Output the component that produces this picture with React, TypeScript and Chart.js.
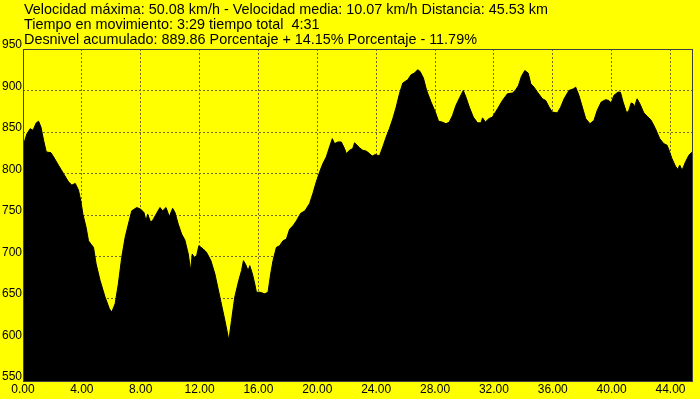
import React, { useEffect, useRef } from "react";
import { Chart, registerables } from "chart.js";

Chart.register(...registerables);

const TITLE_LINES = [
  "Velocidad máxima: 50.08 km/h - Velocidad media: 10.07 km/h Distancia: 45.53 km",
  "Tiempo en movimiento: 3:29 tiempo total  4:31",
  "Desnivel acumulado: 889.86 Porcentaje + 14.15% Porcentaje - 11.79%",
];

const X_TICKS = [0, 4, 8, 12, 16, 20, 24, 28, 32, 36, 40, 44];
const Y_TICKS = [550, 600, 650, 700, 750, 800, 850, 900, 950];
const X_MAX = 45.53;

const DIST = [
  0, 0.09, 0.27, 0.49, 0.68, 0.9, 1.06, 1.22, 1.4, 1.58, 1.9, 2.08, 2.41, 2.75, 3.09, 3.32, 3.55, 3.77, 3.93,
  4.07, 4.29, 4.45, 4.61, 4.79, 4.97, 5.24, 5.58, 5.87, 6.03, 6.26, 6.48, 6.71, 6.94, 7.16, 7.39, 7.73, 8.0,
  8.22, 8.36, 8.47, 8.68, 8.86, 9.08, 9.31, 9.49, 9.72, 9.94, 10.17, 10.33, 10.55, 10.78, 11.0, 11.23, 11.39,
  11.5, 11.63, 11.8, 11.95, 12.25, 12.47, 12.77, 13.04, 13.38, 13.72, 13.99, 14.17, 14.39, 14.66, 14.85, 14.98,
  15.14, 15.3, 15.41, 15.59, 15.75, 15.86, 16.09, 16.43, 16.65, 16.83, 16.99, 17.22, 17.44, 17.67, 17.9, 18.12,
  18.35, 18.58, 18.87, 19.16, 19.48, 19.7, 19.93, 20.16, 20.38, 20.61, 20.83, 21.02, 21.17, 21.4, 21.63, 21.85,
  21.97, 22.19, 22.41, 22.53, 22.87, 23.09, 23.32, 23.55, 23.73, 23.95, 24.22, 24.45, 24.68, 24.9, 25.13, 25.36,
  25.58, 25.81, 26.15, 26.37, 26.6, 26.82, 26.98, 27.21, 27.43, 27.73, 28.02, 28.24, 28.47, 28.75, 28.97, 29.19,
  29.42, 29.69, 29.92, 30.1, 30.33, 30.6, 30.89, 31.12, 31.23, 31.42, 31.65, 31.9, 32.25, 32.58, 32.92, 33.26,
  33.45, 33.67, 33.87, 34.1, 34.33, 34.51, 34.73, 34.96, 35.3, 35.52, 35.75, 35.97, 36.31, 36.54, 36.77, 37.1,
  37.4, 37.56, 37.78, 38.01, 38.24, 38.53, 38.8, 39.02, 39.29, 39.59, 39.81, 39.97, 40.15, 40.42, 40.6, 40.78,
  41.02, 41.17, 41.33, 41.46, 41.55, 41.73, 41.92, 42.19, 42.42, 42.69, 42.98, 43.27, 43.54, 43.77, 43.88, 44.1,
  44.33, 44.49, 44.63, 44.79, 45.02, 45.25, 45.41, 45.53,
];

const ELEV = [
  834, 838, 848, 854, 852, 861, 863, 856, 840, 826, 825, 820, 810, 800, 790, 786, 788, 780, 767,
  751, 735, 719, 715, 711, 691, 671, 651, 637, 633, 643, 667, 699, 723, 739, 755, 759, 757,
  753, 743, 751, 741, 745, 752, 759, 755, 759, 748, 758, 753, 739, 727, 720, 703, 683,
  703, 699, 701, 713, 709, 705, 695, 679, 651, 623, 599, 623, 651, 671, 683, 695,
  690, 683, 689, 679, 667, 657, 657, 655, 657, 679, 695, 711, 713, 719, 721, 733,
  737, 743, 752, 755, 764, 776, 790, 802, 812, 820, 832, 842, 836, 838, 838, 830,
  824, 828, 830, 837, 831, 828, 827, 824, 821, 823, 821, 832, 844, 854, 866, 880,
  896, 909, 913, 919, 921, 925, 923, 915, 900, 886, 874, 863, 862, 860, 862, 870,
  882, 892, 900, 892, 880, 868, 861, 861, 867, 862, 866, 868, 878, 888, 896, 897,
  900, 906, 917, 924, 921, 908, 904, 898, 890, 888, 880, 874, 873, 880, 890, 900,
  902, 904, 894, 880, 866, 860, 864, 876, 886, 889, 888, 885, 894, 898, 898, 886,
  873, 876, 885, 884, 880, 890, 884, 873, 869, 864, 854, 842, 836, 834, 829, 818,
  809, 805, 810, 804, 814, 822, 825, 826,
];

const FONT = "'Liberation Sans', Arial, sans-serif";
const GRID_COLOR = "#6e6a2a";

const textPlugin = {
  id: "headerText",
  afterDraw(chart: any) {
    const ctx = chart.ctx;
    const a = chart.chartArea;
    ctx.save();
    ctx.strokeStyle = "#404040";
    ctx.lineWidth = 1;
    ctx.strokeRect(a.left + 0.5, a.top + 0.5, a.right - a.left - 1, a.bottom - a.top);
    ctx.fillStyle = "#000";
    ctx.font = `14.4px ${FONT}`;
    ctx.textBaseline = "alphabetic";
    ctx.textAlign = "left";
    const baselines = [14, 29, 44];
    TITLE_LINES.forEach((t, i) => ctx.fillText(t, 24, baselines[i]));
    ctx.restore();
  },
};

const bgPlugin = {
  id: "bg",
  beforeDraw(chart: any) {
    const ctx = chart.ctx;
    ctx.save();
    ctx.fillStyle = "#FFFF00";
    ctx.fillRect(0, 0, chart.width, chart.height);
    ctx.restore();
  },
};

export default function App() {
  const ref = useRef<HTMLCanvasElement | null>(null);
  useEffect(() => {
    if (!ref.current) return;
    const data = DIST.map((x, i) => ({ x, y: ELEV[i] }));
    const chart = new Chart(ref.current, {
      type: "line",
      data: {
        datasets: [
          {
            data,
            borderColor: "#000",
            backgroundColor: "#000",
            borderWidth: 1,
            pointRadius: 0,
            fill: "start",
            tension: 0,
          },
        ],
      },
      options: {
        animation: false,
        responsive: false,
        devicePixelRatio: 1,
        layout: { padding: { top: 49, right: 7, left: 0, bottom: 0 } },
        plugins: { legend: { display: false }, title: { display: false }, tooltip: { enabled: false } },
        scales: {
          x: {
            type: "linear",
            min: 0,
            max: X_MAX,
            afterBuildTicks: (s: any) => {
              s.ticks = X_TICKS.map((v) => ({ value: v }));
            },
            afterFit: (s: any) => {
              s.height = 18;
            },
            ticks: {
              autoSkip: false,
              maxRotation: 0,
              padding: 1,
              color: "#000",
              font: { family: FONT, size: 12 },
              callback: (v: any) => Number(v).toFixed(2),
            },
            grid: { color: GRID_COLOR, lineWidth: 1, drawTicks: false, tickLength: 0 },
            border: { display: false, dash: [2, 2] },
          },
          y: {
            min: 550,
            max: 950,
            afterBuildTicks: (s: any) => {
              s.ticks = Y_TICKS.map((v) => ({ value: v }));
            },
            afterFit: (s: any) => {
              s.width = 23;
            },
            ticks: {
              padding: 1,
              labelOffset: -4,
              color: "#000",
              font: { family: FONT, size: 12 },
              callback: (v: any) => String(v),
            },
            grid: { color: GRID_COLOR, lineWidth: 1, drawTicks: false, tickLength: 0 },
            border: { display: false, dash: [2, 2] },
          },
        },
      },
      plugins: [bgPlugin, textPlugin],
    });
    return () => chart.destroy();
  }, []);
  return (
    <div style={{ position: "absolute", left: 0, top: 0, width: 700, height: 399 }}>
      <canvas ref={ref} width={700} height={399} style={{ display: "block" }} />
    </div>
  );
}
